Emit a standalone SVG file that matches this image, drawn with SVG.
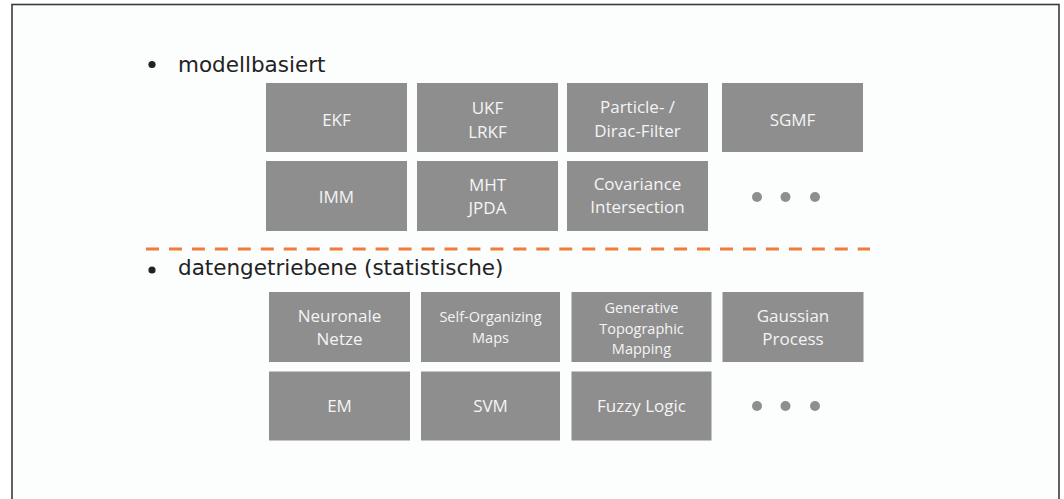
<svg xmlns="http://www.w3.org/2000/svg" width="1064" height="499" viewBox="0 0 1064 499">
  <style>
    .frame { fill: #fcfdfd; stroke: #3a3a3a; stroke-width: 1.6; }
    .head { font-family: "DejaVu Sans", Verdana, sans-serif; font-size: 21.5px; fill: #222222; }
    .bullet { fill: #222222; }
    .box { fill: #8e8e8e; }
    .lbl { font-family: "Open Sans", "Noto Sans", sans-serif; font-size: 17px; fill: #f4f4f4; text-anchor: middle; }
    .sm { font-size: 14.5px; }
    .dot { fill: #8e8e8e; }
    .divider { stroke: #ee7d3a; stroke-width: 3; stroke-dasharray: 13 9.96; fill: none; }
  </style>

  <!-- slide frame -->
  <rect class="frame" x="12" y="4.5" width="1047" height="600"/>

  <!-- section headings -->
  <g id="heading-model">
    <circle class="bullet" cx="152" cy="64.5" r="3.6"/>
    <text class="head" x="178" y="71.7">modellbasiert</text>
  </g>
  <g id="heading-data">
    <circle class="bullet" cx="152" cy="270" r="3.6"/>
    <text class="head" x="178" y="275">datengetriebene (statistische)</text>
  </g>

  <!-- separator between the two groups -->
  <g id="connectors">
    <line class="divider" x1="146" y1="249" x2="870" y2="249"/>
  </g>

  <!-- model-based methods -->
  <g id="ekf">
    <rect class="box" x="266" y="83" width="141" height="69"/>
    <text class="lbl" x="336.5" y="125.5">EKF</text>
  </g>
  <g id="ukf">
    <rect class="box" x="417" y="83" width="141" height="69"/>
    <text class="lbl" x="487.5" y="114">UKF</text>
    <text class="lbl" x="487.5" y="138">LRKF</text>
  </g>
  <g id="particle">
    <rect class="box" x="567" y="83" width="141" height="69"/>
    <text class="lbl" x="637.5" y="112.5">Particle- /</text>
    <text class="lbl" x="637.5" y="136.5">Dirac-Filter</text>
  </g>
  <g id="sgmf">
    <rect class="box" x="722" y="83" width="141" height="69"/>
    <text class="lbl" x="792.5" y="125.5">SGMF</text>
  </g>
  <g id="imm">
    <rect class="box" x="266" y="161" width="141" height="70"/>
    <text class="lbl" x="336.5" y="203.3">IMM</text>
  </g>
  <g id="mht">
    <rect class="box" x="417" y="161" width="141" height="70"/>
    <text class="lbl" x="487.5" y="191">MHT</text>
    <text class="lbl" x="487.5" y="214.3">JPDA</text>
  </g>
  <g id="covariance">
    <rect class="box" x="567" y="161" width="141" height="70"/>
    <text class="lbl" x="637.5" y="190">Covariance</text>
    <text class="lbl" x="637.5" y="213.3">Intersection</text>
  </g>
  <g id="more-model">
    <circle class="dot" cx="757" cy="197" r="5"/>
    <circle class="dot" cx="785.5" cy="197" r="5"/>
    <circle class="dot" cx="815" cy="197" r="5"/>
  </g>

  <!-- data-driven methods -->
  <g id="neuronale">
    <rect class="box" x="269" y="292" width="141" height="70"/>
    <text class="lbl" x="339.5" y="321.7">Neuronale</text>
    <text class="lbl" x="339.5" y="345">Netze</text>
  </g>
  <g id="som">
    <rect class="box" x="421" y="292" width="139" height="70"/>
    <text class="lbl sm" x="490.5" y="321.7">Self-Organizing</text>
    <text class="lbl sm" x="490.5" y="343.3">Maps</text>
  </g>
  <g id="gtm">
    <rect class="box" x="571.5" y="292" width="140" height="70"/>
    <text class="lbl sm" x="641.5" y="313.3">Generative</text>
    <text class="lbl sm" x="641.5" y="334.3">Topographic</text>
    <text class="lbl sm" x="641.5" y="354.3">Mapping</text>
  </g>
  <g id="gaussian">
    <rect class="box" x="722.5" y="292" width="141" height="70"/>
    <text class="lbl" x="793" y="321.7">Gaussian</text>
    <text class="lbl" x="793" y="345">Process</text>
  </g>
  <g id="em">
    <rect class="box" x="269" y="371.5" width="141" height="69"/>
    <text class="lbl" x="339.5" y="411.7">EM</text>
  </g>
  <g id="svm">
    <rect class="box" x="421" y="371.5" width="139" height="69"/>
    <text class="lbl" x="490.5" y="411.7">SVM</text>
  </g>
  <g id="fuzzy">
    <rect class="box" x="571.5" y="371.5" width="140" height="69"/>
    <text class="lbl" x="641.5" y="411.7">Fuzzy Logic</text>
  </g>
  <g id="more-data">
    <circle class="dot" cx="757" cy="406" r="5"/>
    <circle class="dot" cx="785.5" cy="406" r="5"/>
    <circle class="dot" cx="815" cy="406" r="5"/>
  </g>
</svg>
